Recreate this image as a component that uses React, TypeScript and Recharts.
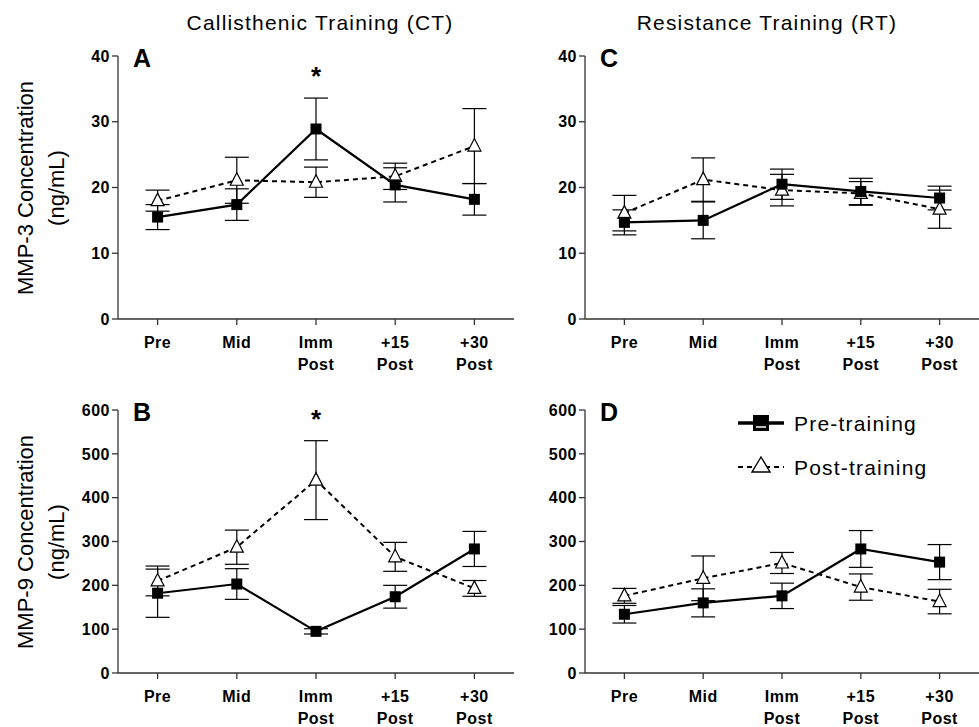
import { ErrorBar, Line, LineChart, ReferenceDot, XAxis, YAxis } from "recharts";

const timepoints = ["Pre", "Mid", "Imm Post", "+15 Post", "+30 Post"];

// panel A: CT, MMP-3
const ctMmp3Pre = [15.5, 17.4, 28.9, 20.4, 18.2];
const ctMmp3PreErr = [1.9, 2.4, 4.7, 2.6, 2.4];
const ctMmp3Post = [18.0, 21.1, 20.8, 21.7, 26.3];
const ctMmp3PostErr = [1.6, 3.5, 2.3, 2.0, 5.7];

// panel B: CT, MMP-9
const ctMmp9Pre = [182, 203, 95, 174, 283];
const ctMmp9PreErr = [55, 35, 6, 26, 40];
const ctMmp9Post = [210, 287, 440, 265, 193];
const ctMmp9PostErr = [34, 39, 90, 33, 18];

// panel C: RT, MMP-3
const rtMmp3Pre = [14.7, 15.0, 20.5, 19.4, 18.4];
const rtMmp3PreErr = [1.9, 2.8, 2.3, 2.0, 1.8];
const rtMmp3Post = [16.1, 21.2, 19.6, 19.1, 16.7];
const rtMmp3PostErr = [2.7, 3.3, 2.4, 1.8, 2.9];

// panel D: RT, MMP-9
const rtMmp9Pre = [134, 160, 176, 283, 253];
const rtMmp9PreErr = [20, 32, 29, 42, 40];
const rtMmp9Post = [176, 216, 251, 196, 163];
const rtMmp9PostErr = [17, 51, 24, 30, 28];

const mmp3Ticks = [0, 10, 20, 30, 40];
const mmp9Ticks = [0, 100, 200, 300, 400, 500, 600];

const FONT = "'Liberation Sans', Arial, Helvetica, sans-serif";

function buildRows(pre: number[], preErr: number[], post: number[], postErr: number[]) {
  return timepoints.map((_, i) => ({ x: i, pre: pre[i], preErr: preErr[i], post: post[i], postErr: postErr[i] }));
}

function TimeTick({ x, y, payload }: any) {
  const words = timepoints[payload.value].split(" ");
  return (
    <text x={x} y={y} textAnchor="middle" fontSize={16} fontWeight="bold" fill="#000" fontFamily={FONT} letterSpacing={0.5}>
      {words.map((w, i) => (
        <tspan key={i} x={x} dy={i === 0 ? 21 : 22}>
          {w}
        </tspan>
      ))}
    </text>
  );
}

function SquareDot({ cx, cy }: any) {
  if (cx == null || cy == null) return null;
  return <rect x={cx - 5.5} y={cy - 5.5} width={11} height={11} fill="#000" />;
}

function TriangleDot({ cx, cy }: any) {
  if (cx == null || cy == null) return null;
  return (
    <polygon
      points={`${cx},${cy - 7.5} ${cx - 6.5},${cy + 5} ${cx + 6.5},${cy + 5}`}
      fill="#fff"
      stroke="#000"
      strokeWidth={1.2}
    />
  );
}

function LegendBox() {
  return (
    <svg width={240} height={80} style={{ display: "block" }}>
      <line x1={4} x2={50} y1={18} y2={18} stroke="#000" strokeWidth={3.5} />
      <rect x={19} y={10} width={16} height={16} fill="#000" />
      <line x1={22} x2={32} y1={22} y2={22} stroke="#fff" strokeWidth={1.5} />
      <text x={60} y={26} fontSize={21} fontFamily={FONT} letterSpacing={1.2} fill="#000">
        Pre-training
      </text>
      <line x1={4} x2={50} y1={62} y2={62} stroke="#000" strokeWidth={2} strokeDasharray="5 4" />
      <polygon points="27,52 18,67 36,67" fill="#fff" stroke="#000" strokeWidth={1.4} />
      <text x={60} y={70} fontSize={21} fontFamily={FONT} letterSpacing={1.2} fill="#000">
        Post-training
      </text>
    </svg>
  );
}

type PanelProps = {
  left: number;
  top: number;
  width: number;
  marginRight: number;
  rows: ReturnType<typeof buildRows>;
  max: number;
  ticks: number[];
  letter: string;
  star?: number;
};

function Panel({ left, top, width, marginRight, rows, max, ticks, letter, star }: PanelProps) {
  return (
    <div style={{ position: "absolute", left, top }}>
      <LineChart width={width} height={341} data={rows} margin={{ top: 16, right: marginRight, bottom: 5, left: 0 }}>
        <XAxis
          type="number"
          dataKey="x"
          domain={[-0.5, 4.5]}
          ticks={[0, 1, 2, 3, 4]}
          tick={<TimeTick />}
          tickSize={6}
          height={57}
          stroke="#333"
          strokeWidth={1.3}
          interval={0}
        />
        <YAxis
          type="number"
          domain={[0, max]}
          ticks={ticks}
          width={68}
          tickSize={6}
          stroke="#333"
          strokeWidth={1.3}
          tick={{ fill: "#000", fontSize: 16, fontWeight: "bold", fontFamily: FONT, letterSpacing: 0.5 }}
        />
        {star !== undefined && (
          <ReferenceDot
            x={2}
            y={star}
            r={0}
            fill="none"
            stroke="none"
            label={{ value: "*", position: "center", fontSize: 26, fontWeight: "bold", fill: "#000", fontFamily: FONT }}
          />
        )}
        <Line
          dataKey="post"
          stroke="#000"
          strokeWidth={2}
          strokeDasharray="5 4"
          dot={<TriangleDot />}
          isAnimationActive={false}
        >
          <ErrorBar dataKey="postErr" width={12} stroke="#000" strokeWidth={1.2} />
        </Line>
        <Line dataKey="pre" stroke="#000" strokeWidth={2.2} dot={<SquareDot />} isAnimationActive={false}>
          <ErrorBar dataKey="preErr" width={12} stroke="#000" strokeWidth={1.2} />
        </Line>
      </LineChart>
      <div
        style={{
          position: "absolute",
          left: 83,
          top: 3,
          fontFamily: FONT,
          fontWeight: "bold",
          fontSize: 25,
          lineHeight: "30px",
          color: "#000",
        }}
      >
        {letter}
      </div>
    </div>
  );
}

export default function App() {
  const textStyle = { fontFamily: FONT, fill: "#000" };
  return (
    <div style={{ position: "absolute", left: 0, top: 0, width: 979, height: 727, background: "#fff", overflow: "hidden" }}>
      <svg width={979} height={727} style={{ position: "absolute", left: 0, top: 0 }}>
        <text x={320} y={30} textAnchor="middle" fontSize={21} letterSpacing={1.2} style={textStyle}>
          Callisthenic Training (CT)
        </text>
        <text x={767} y={30} textAnchor="middle" fontSize={21} letterSpacing={1.2} style={textStyle}>
          Resistance Training (RT)
        </text>
        <g transform="translate(33,188) rotate(-90)">
          <text textAnchor="middle" fontSize={22} style={textStyle}>MMP-3 Concentration</text>
        </g>
        <g transform="translate(64,188) rotate(-90)">
          <text textAnchor="middle" fontSize={22} style={textStyle}>(ng/mL)</text>
        </g>
        <g transform="translate(33,542) rotate(-90)">
          <text textAnchor="middle" fontSize={22} style={textStyle}>MMP-9 Concentration</text>
        </g>
        <g transform="translate(64,542) rotate(-90)">
          <text textAnchor="middle" fontSize={22} style={textStyle}>(ng/mL)</text>
        </g>
      </svg>
      <Panel
        left={50}
        top={40}
        width={480}
        marginRight={16}
        rows={buildRows(ctMmp3Pre, ctMmp3PreErr, ctMmp3Post, ctMmp3PostErr)}
        max={40}
        ticks={mmp3Ticks}
        letter="A"
        star={37}
      />
      <Panel
        left={50}
        top={394}
        width={480}
        marginRight={16}
        rows={buildRows(ctMmp9Pre, ctMmp9PreErr, ctMmp9Post, ctMmp9PostErr)}
        max={600}
        ticks={mmp9Ticks}
        letter="B"
        star={580}
      />
      <Panel
        left={517}
        top={40}
        width={462}
        marginRight={0}
        rows={buildRows(rtMmp3Pre, rtMmp3PreErr, rtMmp3Post, rtMmp3PostErr)}
        max={40}
        ticks={mmp3Ticks}
        letter="C"
      />
      <Panel
        left={517}
        top={394}
        width={462}
        marginRight={0}
        rows={buildRows(rtMmp9Pre, rtMmp9PreErr, rtMmp9Post, rtMmp9PostErr)}
        max={600}
        ticks={mmp9Ticks}
        letter="D"
      />
      <div style={{ position: "absolute", left: 734, top: 405 }}>
        <LegendBox />
      </div>
    </div>
  );
}
